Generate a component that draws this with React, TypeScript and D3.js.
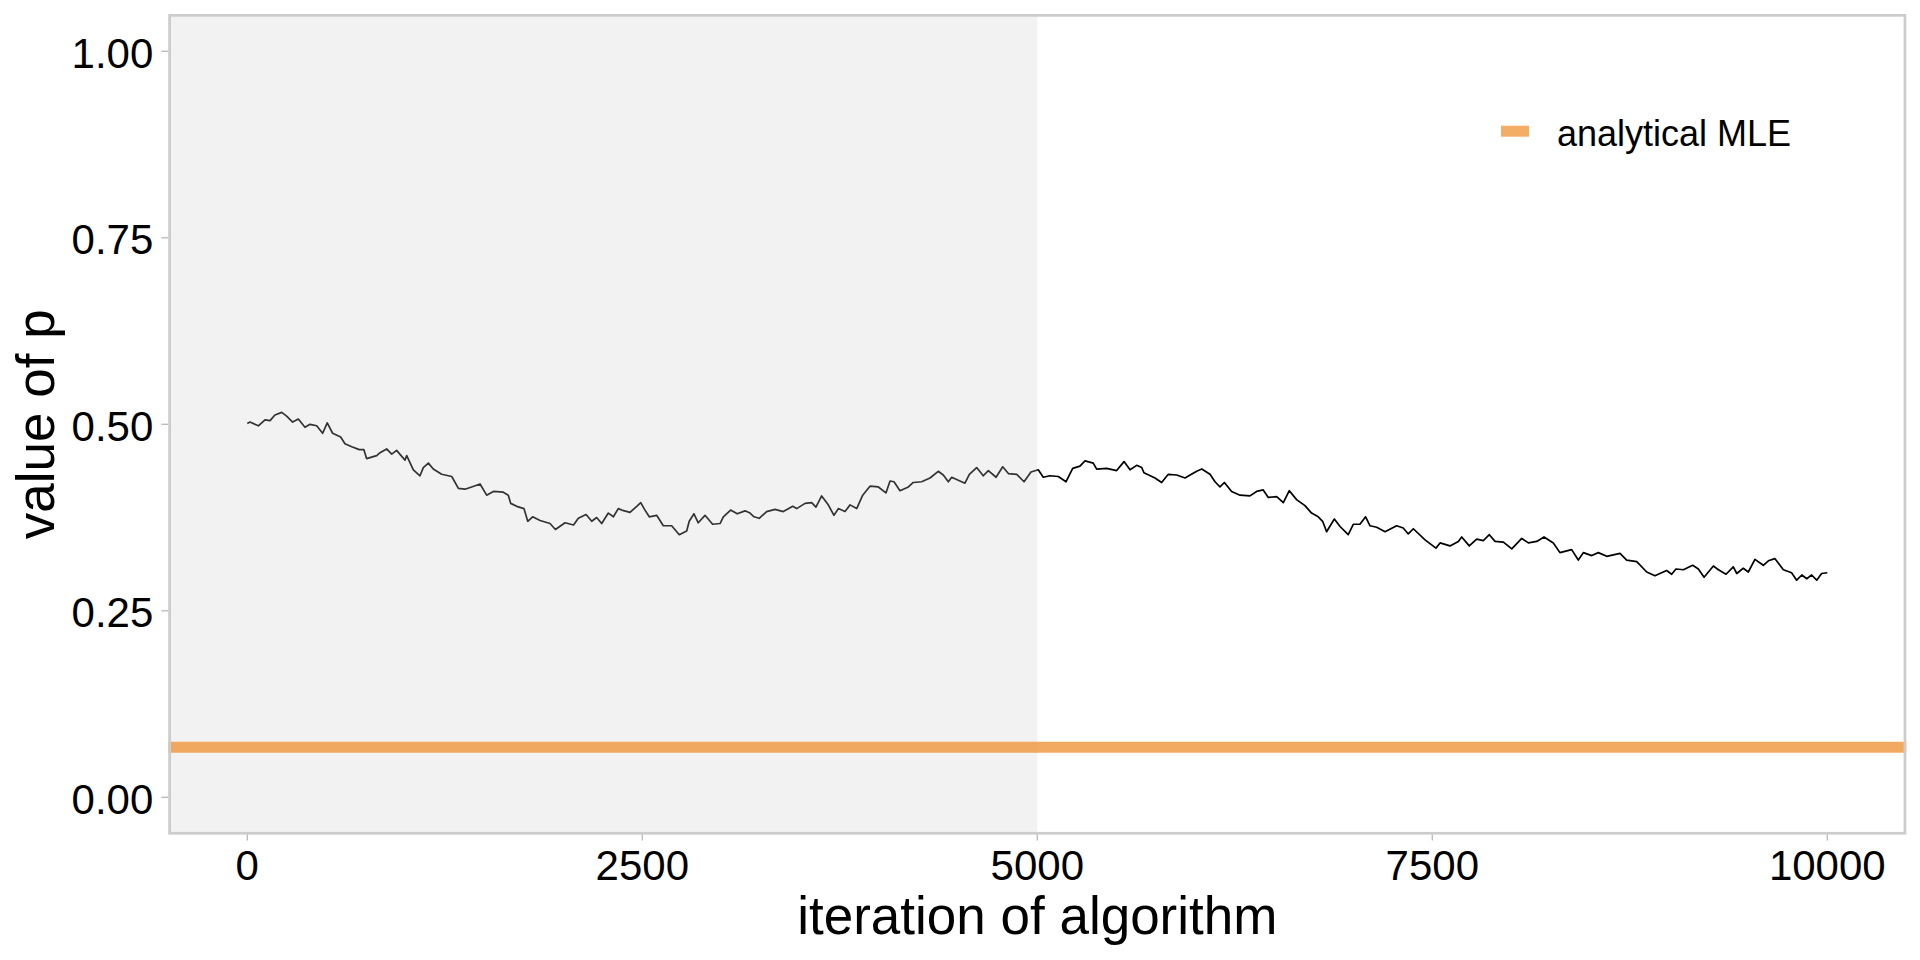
import React from "react";
import * as d3 from "d3";

// ---- data ----
const iterations: number[] = [
  0, 17, 70, 112, 144, 175, 218, 249, 287, 323, 365, 397, 439, 477, 506, 540, 591, 618, 661, 709,
  738, 755, 819, 840, 882, 914, 945, 998, 1009, 1051, 1093, 1114, 1146, 1177, 1230, 1294, 1336, 1378, 1420, 1473,
  1515, 1557, 1620, 1652, 1667, 1705, 1751, 1775, 1806, 1853, 1916, 1950, 2011, 2065, 2095, 2144, 2180, 2211, 2243, 2285,
  2317, 2348, 2370, 2422, 2465, 2490, 2517, 2544, 2591, 2633, 2686, 2734, 2781, 2797, 2827, 2854, 2897, 2945, 2992, 3013,
  3059, 3101, 3150, 3182, 3207, 3240, 3287, 3340, 3392, 3452, 3477, 3530, 3572, 3599, 3635, 3677, 3713, 3741, 3783, 3815,
  3857, 3895, 3941, 3994, 4042, 4068, 4093, 4131, 4184, 4215, 4268, 4321, 4373, 4405, 4437, 4458, 4542, 4570, 4616, 4658,
  4690, 4739, 4781, 4817, 4870, 4916, 4960, 5006, 5038, 5080, 5133, 5182, 5224, 5270, 5302, 5354, 5376, 5439, 5502, 5549,
  5587, 5629, 5661, 5675, 5745, 5787, 5829, 5882, 5935, 5967, 6009, 6041, 6093, 6125, 6156, 6184, 6230, 6283, 6346, 6388,
  6430, 6462, 6515, 6557, 6595, 6641, 6694, 6736, 6778, 6806, 6831, 6880, 6916, 6968, 7000, 7042, 7078, 7106, 7148, 7201,
  7274, 7316, 7348, 7380, 7454, 7523, 7549, 7612, 7665, 7686, 7734, 7781, 7823, 7861, 7897, 7950, 8003, 8066, 8108, 8161,
  8207, 8266, 8308, 8382, 8424, 8456, 8509, 8551, 8604, 8646, 8688, 8730, 8794, 8857, 8909, 8983, 9015, 9042, 9089, 9148,
  9184, 9220, 9279, 9311, 9359, 9405, 9427, 9468, 9500, 9542, 9595, 9627, 9668, 9722, 9774, 9806, 9839, 9870, 9901, 9933,
  9964, 10000,
];
const pValues: number[] = [
  0.501, 0.503, 0.498, 0.506, 0.505, 0.5125, 0.516, 0.511, 0.503, 0.507, 0.496, 0.5, 0.498, 0.488, 0.502, 0.488, 0.483, 0.474, 0.47, 0.466,
  0.466, 0.454, 0.458, 0.462, 0.467, 0.46, 0.465, 0.452, 0.458, 0.439, 0.431, 0.442, 0.448, 0.44, 0.433, 0.43, 0.414, 0.413, 0.416, 0.42,
  0.405, 0.41, 0.409, 0.405, 0.394, 0.39, 0.387, 0.37, 0.376, 0.371, 0.367, 0.359, 0.368, 0.365, 0.374, 0.379, 0.37, 0.375, 0.367, 0.381,
  0.376, 0.387, 0.385, 0.382, 0.39, 0.395, 0.385, 0.376, 0.378, 0.364, 0.364, 0.352, 0.357, 0.37, 0.38, 0.368, 0.378, 0.366, 0.367, 0.376,
  0.385, 0.38, 0.384, 0.381, 0.376, 0.374, 0.383, 0.386, 0.383, 0.39, 0.387, 0.394, 0.395, 0.389, 0.404, 0.392, 0.378, 0.387, 0.383, 0.392,
  0.387, 0.405, 0.417, 0.416, 0.408, 0.424, 0.423, 0.411, 0.416, 0.422, 0.423, 0.428, 0.437, 0.432, 0.423, 0.429, 0.421, 0.433, 0.442, 0.431,
  0.438, 0.429, 0.443, 0.434, 0.433, 0.423, 0.436, 0.439, 0.429, 0.431, 0.43, 0.423, 0.441, 0.444, 0.451, 0.448, 0.44, 0.441, 0.438, 0.45,
  0.439, 0.445, 0.442, 0.435, 0.428, 0.422, 0.433, 0.432, 0.428, 0.432, 0.437, 0.44, 0.433, 0.423, 0.416, 0.422, 0.41, 0.405, 0.404, 0.41,
  0.412, 0.402, 0.403, 0.395, 0.411, 0.399, 0.391, 0.381, 0.376, 0.37, 0.356, 0.373, 0.363, 0.352, 0.366, 0.366, 0.376, 0.364, 0.362, 0.356,
  0.364, 0.361, 0.353, 0.36, 0.345, 0.334, 0.341, 0.337, 0.343, 0.349, 0.337, 0.346, 0.344, 0.352, 0.343, 0.342, 0.333, 0.347, 0.341, 0.343,
  0.349, 0.341, 0.328, 0.332, 0.318, 0.328, 0.324, 0.328, 0.323, 0.325, 0.327, 0.318, 0.316, 0.302, 0.297, 0.304, 0.299, 0.306, 0.305, 0.311,
  0.306, 0.295, 0.31, 0.305, 0.299, 0.309, 0.3, 0.307, 0.302, 0.319, 0.311, 0.317, 0.32, 0.305, 0.301, 0.291, 0.298, 0.293, 0.298, 0.291,
  0.3, 0.301,
];
const analyticalMLE = 0.067;
const burnInEnd = 5000;
const xTicks: number[] = [0, 2500, 5000, 7500, 10000];
const yTicks: number[] = [0, 0.25, 0.5, 0.75, 1.0];
const legendLabel = "analytical MLE";
const xTitle = "iteration of algorithm";
const yTitle = "value of p";

const FONT = "'Liberation Sans', Arial, Helvetica, sans-serif";

export default function App() {
  const W = 1920;
  const H = 960;
  const left = 168.3;
  const right = 1906.3;
  const top = 14;
  const bottom = 834.6;

  const x = d3.scaleLinear().domain([-500, 10500]).range([left, right]);
  const y = d3.scaleLinear().domain([-0.05, 1.05]).range([bottom, top]);

  const pts: [number, number][] = iterations.map((it, i) => [it, pValues[i]]);
  const lineGen = d3
    .line<[number, number]>()
    .x((d) => x(d[0]))
    .y((d) => y(d[1]));

  const bw = 2.7;

  return (
    <div style={{ position: "absolute", left: 0, top: 0 }}>
      <svg width={W} height={H} style={{ display: "block", background: "#fff" }}>
        <rect x={0} y={0} width={W} height={H} fill="#ffffff" />
        {/* panel */}
        <rect x={left} y={top} width={right - left} height={bottom - top} fill="#ffffff" />
        {/* trace */}
        <path d={lineGen(pts) || ""} fill="none" stroke="#000000" strokeWidth={1.7} strokeLinejoin="round" />
        {/* burn-in shade overlay */}
        <rect
          x={left}
          y={top}
          width={x(burnInEnd) - left}
          height={bottom - top}
          fill="#cccccc"
          fillOpacity={0.25}
        />
        {/* orange MLE line */}
        <line
          x1={left}
          x2={right}
          y1={y(analyticalMLE)}
          y2={y(analyticalMLE)}
          stroke="#EF953B"
          strokeOpacity={0.8}
          strokeWidth={11}
        />
        {/* panel border */}
        <rect
          x={left + bw / 2}
          y={top + bw / 2}
          width={right - left - bw}
          height={bottom - top - bw}
          fill="none"
          stroke="#cccccc"
          strokeWidth={bw}
        />
        {/* y axis */}
        {yTicks.map((t) => (
          <g key={"y" + t}>
            <line x1={left - 7} x2={left} y1={y(t)} y2={y(t)} stroke="#b8b8b8" strokeWidth={1.3} />
            <text
              x={153.3}
              y={y(t) + 16.5}
              textAnchor="end"
              fontFamily={FONT}
              fontSize={42}
              fill="#000"
            >
              {t.toFixed(2)}
            </text>
          </g>
        ))}
        {/* x axis */}
        {xTicks.map((t) => (
          <g key={"x" + t}>
            <line x1={x(t)} x2={x(t)} y1={bottom} y2={bottom + 6} stroke="#b8b8b8" strokeWidth={1.3} />
            <text x={x(t)} y={880} textAnchor="middle" fontFamily={FONT} fontSize={42} fill="#000">
              {String(t)}
            </text>
          </g>
        ))}
        {/* axis titles */}
        <text
          x={(left + right) / 2}
          y={934}
          textAnchor="middle"
          fontFamily={FONT}
          fontSize={53}
          fill="#000"
        >
          {xTitle}
        </text>
        <text
          transform={`translate(53.5, ${(top + bottom) / 2}) rotate(-90)`}
          textAnchor="middle"
          fontFamily={FONT}
          fontSize={53}
          fill="#000"
        >
          {yTitle}
        </text>
        {/* legend */}
        <rect x={1501} y={125.7} width={28} height={11} fill="#F4AD66" />
        <text x={1557} y={145.7} fontFamily={FONT} fontSize={36} fill="#000">
          {legendLabel}
        </text>
      </svg>
    </div>
  );
}
